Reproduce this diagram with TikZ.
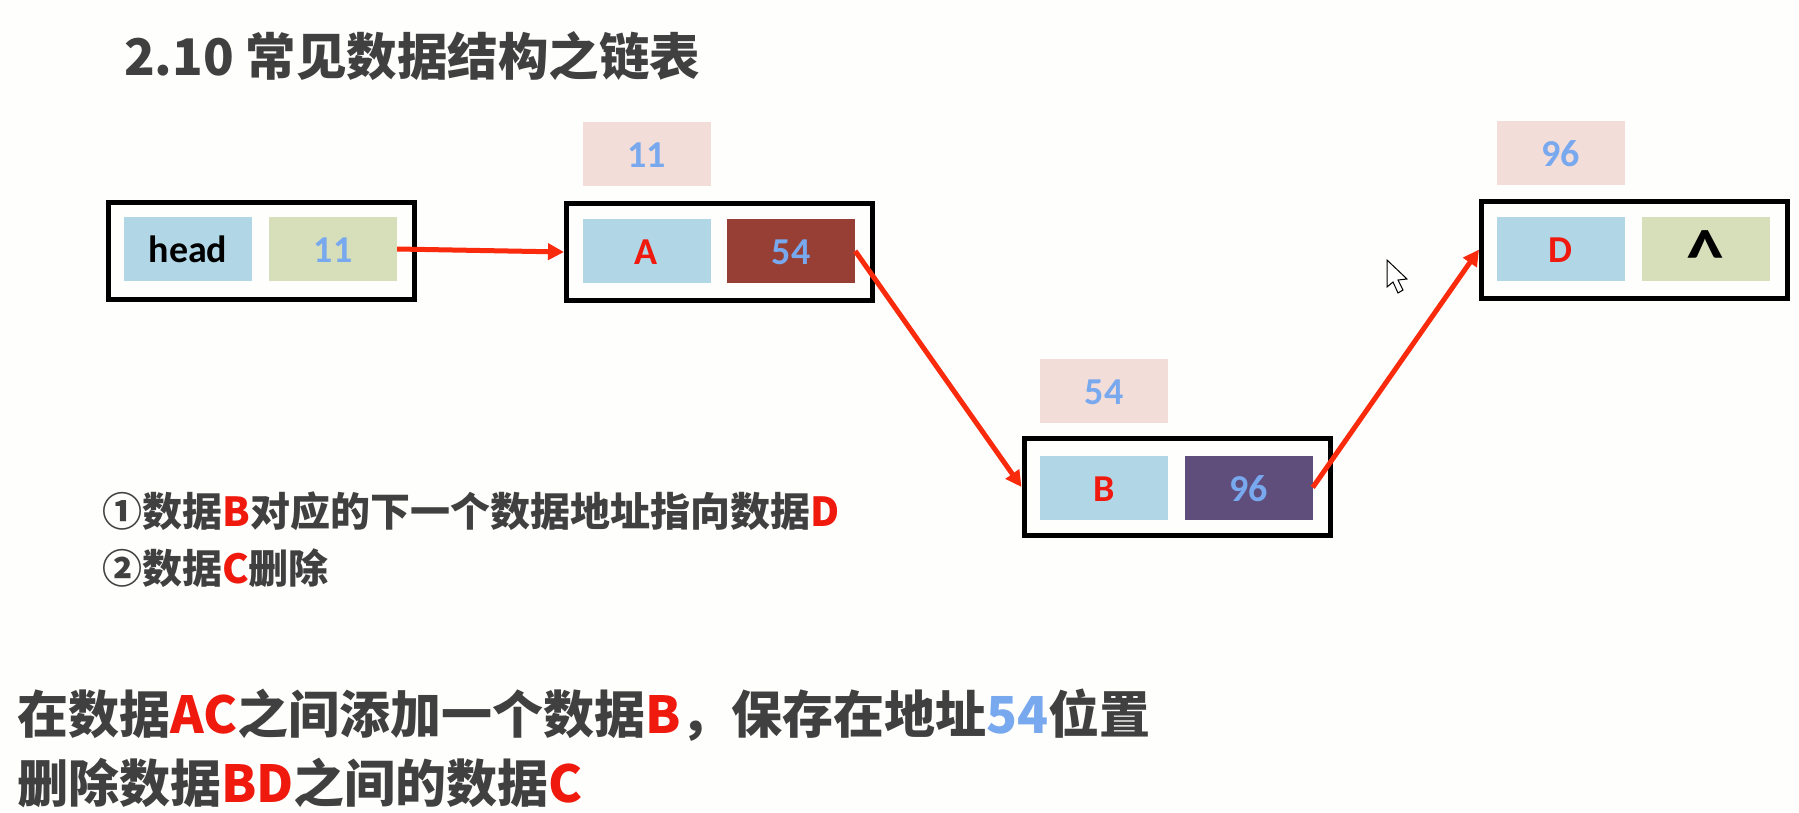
\documentclass[tikz,border=0pt]{standalone}
\usepackage{fontspec}
\usepackage{graphicx}
\usetikzlibrary{arrows.meta}
\newfontfamily\cjk{Noto Sans CJK SC}
\newfontfamily\cellf{Carlito}
\definecolor{bgc}{HTML}{FEFEFD}
\definecolor{cellblue}{HTML}{B1D7E7}
\definecolor{cellgreen}{HTML}{D6DFB9}
\definecolor{celladdr}{HTML}{F2DDD9}
\definecolor{cellbrown}{HTML}{973F34}
\definecolor{cellpurple}{HTML}{5F4E7C}
\definecolor{tblue}{HTML}{78A8EE}
\definecolor{tred}{HTML}{F0190E}
\definecolor{tdark}{HTML}{404040}
\definecolor{arrowred}{HTML}{FA2A0C}
\tikzset{
  outerbox/.style={draw=black,line width=5pt,fill=bgc,minimum width=306pt,minimum height=97pt,inner sep=0pt},
  cellbox/.style={minimum width=128pt,minimum height=64pt,inner sep=0pt,text height=27pt,text depth=0pt,font=\cellf\bfseries\fontsize{38}{38}\selectfont},
  link/.style={draw=arrowred,line width=5pt,-{Triangle[length=16pt,width=16pt]}},
  bigtext/.style={anchor=west,inner sep=0pt,text=tdark,font=\cjk\bfseries\fontsize{51}{51}\selectfont},
  titletext/.style={anchor=west,inner sep=0pt,text=tdark,font=\cjk\bfseries\fontsize{50.5}{50.5}\selectfont},
  smalltext/.style={anchor=west,inner sep=0pt,text=tdark,font=\cjk\bfseries\fontsize{40}{40}\selectfont},
}
\newcommand{\rd}[1]{\textcolor{tred}{#1}}
\newcommand{\bl}[1]{\textcolor{tblue}{#1}}
\begin{document}
\begin{tikzpicture}[x=1pt,y=-1pt]
\fill[bgc] (0,0) rectangle (1799,812);
\useasboundingbox (0,0) rectangle (1799,812);
% title
\node[titletext] (title) at (124,56) {2.10 常见数据结构之链表};
% outer boxes
\node[outerbox] (oh) at (261.5,250.5) {};
\node[outerbox] (oa) at (719.5,252) {};
\node[outerbox] (ob) at (1177,487) {};
\node[outerbox] (od) at (1634.5,249.5) {};
% cells
\node[cellbox,fill=cellblue] (head) at (188,249) {\textcolor{black}{head}};
\node[cellbox,fill=cellgreen,text=tblue] (h11) at (333,249) {11};
\node[cellbox,fill=celladdr,text=tblue] (addra) at (646.5,154) {11};
\node[cellbox,fill=cellblue,text=tred] (a) at (646.5,251) {A};
\node[cellbox,fill=cellbrown,text=tblue] (a54) at (791,251) {54};
\node[cellbox,fill=celladdr,text=tblue] (addrb) at (1104,390.5) {54};
\node[cellbox,fill=cellblue,text=tred] (b) at (1104,487.5) {B};
\node[cellbox,fill=cellpurple,text=tblue] (b96) at (1248.5,487.5) {96};
\node[cellbox,fill=celladdr,text=tblue] (addrd) at (1560.5,152.5) {96};
\node[cellbox,fill=cellblue,text=tred] (d) at (1560.5,249) {D};
\node[cellbox,fill=cellgreen,text=black] (dnull) at (1705.5,249) {\smash{\raisebox{-20pt}{\scalebox{2}{\textasciicircum}}}};
% links
\draw[link] (h11.east) -- (oa.west);
\draw[link] (a54.east) -- (ob.west);
\draw[link] (b96.east) -- (od.west);
% cursor
\draw[black,line width=1pt,fill=white,line join=miter]
  (1387,260) -- (1387,287) -- (1393,282) -- (1398,293) -- (1403,290) -- (1398,280) -- (1407,279) -- cycle;
% notes
\node[smalltext] (n1) at (102,511) {①数据\rd{B}对应的下一个数据地址指向数据\rd{D}};
\node[smalltext] (n2) at (102,568) {②数据\rd{C}删除};
\node[bigtext] (s1) at (17,715) {在数据\rd{AC}之间添加一个数据\rd{B}，保存在地址\bl{54}位置};
\node[bigtext] (s2) at (17,783) {删除数据\rd{BD}之间的数据\rd{C}};
\end{tikzpicture}
\end{document}
